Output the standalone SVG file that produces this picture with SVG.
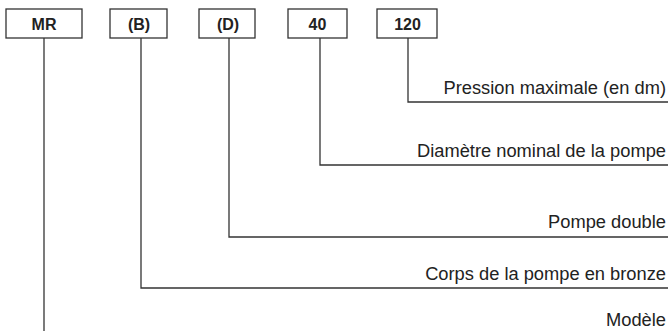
<svg xmlns="http://www.w3.org/2000/svg" width="671" height="331" viewBox="0 0 671 331">
<style>
.box{fill:#fff;stroke:#333;stroke-width:1.3}
.code{font-family:"Liberation Sans",Arial,sans-serif;font-weight:bold;font-size:16px;fill:#222;text-anchor:middle}
.lbl{font-family:"Liberation Sans",Arial,sans-serif;font-size:18.3px;fill:#222;text-anchor:end}
.con{fill:none;stroke:#333;stroke-width:1.3}
</style>
<rect width="671" height="331" fill="#fff"/>
<g id="connectors">
<polyline class="con" points="44,38 44,331"/>
<polyline class="con" points="141,38 141,288 668,288"/>
<polyline class="con" points="229,38 229,237 668,237"/>
<polyline class="con" points="320,38 320,165 668,165"/>
<polyline class="con" points="408,38 408,102 668,102"/>
</g>
<g id="node-MR"><rect class="box" x="6" y="9" width="76" height="29"/><text class="code" x="44" y="29.5">MR</text></g>
<g id="node-B"><rect class="box" x="110" y="9" width="57" height="29"/><text class="code" x="139" y="29.5">(B)</text></g>
<g id="node-D"><rect class="box" x="199" y="9" width="56" height="29"/><text class="code" x="228" y="29.5">(D)</text></g>
<g id="node-40"><rect class="box" x="288" y="9" width="59" height="29"/><text class="code" x="317.5" y="29.5">40</text></g>
<g id="node-120"><rect class="box" x="377" y="9" width="60" height="29"/><text class="code" x="407.5" y="29.5">120</text></g>
<g id="labels">
<text class="lbl" x="666" y="94">Pression maximale (en dm)</text>
<text class="lbl" x="666" y="157">Diamètre nominal de la pompe</text>
<text class="lbl" x="666" y="228">Pompe double</text>
<text class="lbl" x="666" y="280">Corps de la pompe en bronze</text>
<text class="lbl" x="666" y="326">Modèle</text>
</g>
</svg>
